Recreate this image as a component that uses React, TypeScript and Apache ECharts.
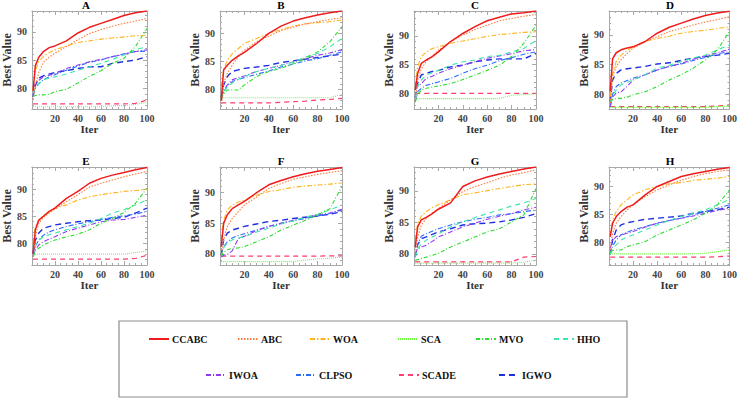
import React, { useEffect, useRef } from 'react';
import * as echarts from 'echarts';

const ITER = [1, 3, 6, 10, 15, 20, 30, 40, 50, 60, 70, 80, 90, 100];
const PANELS = ['A', 'B', 'C', 'D', 'E', 'F', 'G', 'H'];
const Y_MIN = [76.3, 76.5, 77.3, 77.5, 76.0, 78.2, 78.25, 75.9];
const Y_MAX = [93.7, 94.0, 94.3, 94.05, 94.1, 94.2, 93.8, 93.5];
const X_MIN = 0;
const X_MAX = 100;
const X_STEP = 20;

// One row per panel (A..H), values at ITER
const CCABC = [
  [79.5, 84.0, 85.5, 86.5, 87.2, 87.5, 88.4, 89.8, 90.8, 91.5, 92.2, 92.9, 93.4, 93.7],
  [78.0, 83.5, 84.3, 85.2, 86.0, 86.6, 88.2, 90.0, 91.3, 92.2, 92.8, 93.3, 93.7, 94.0],
  [80.6, 83.5, 85.2, 85.8, 86.4, 87.2, 89.0, 90.4, 91.6, 92.6, 93.2, 93.8, 94.0, 94.3],
  [80.5, 86.0, 87.0, 87.5, 87.8, 88.0, 88.9, 90.3, 91.3, 92.0, 92.7, 93.3, 93.7, 94.0],
  [78.0, 82.5, 84.3, 85.0, 85.9, 86.5, 88.3, 89.6, 91.1, 92.0, 92.6, 93.1, 93.6, 94.0],
  [81.2, 85.0, 86.4, 87.4, 88.0, 88.6, 90.0, 91.3, 92.0, 92.6, 93.1, 93.5, 93.8, 94.1],
  [81.1, 84.3, 85.4, 85.8, 86.4, 87.1, 88.1, 90.7, 91.6, 92.2, 92.7, 93.1, 93.5, 93.8],
  [81.0, 83.4, 84.6, 85.5, 86.3, 86.7, 88.5, 90.0, 90.9, 91.8, 92.3, 92.7, 93.1, 93.4],
];
const ABC = [
  [78.0, 80.5, 82.8, 84.6, 85.5, 86.2, 87.4, 88.6, 89.7, 90.4, 91.0, 91.5, 91.9, 92.4],
  [76.9, 81.1, 82.9, 84.3, 85.8, 87.0, 88.5, 89.5, 90.5, 91.1, 91.7, 92.1, 92.5, 92.8],
  [78.8, 82.3, 84.3, 85.5, 86.5, 87.5, 89.0, 90.1, 91.1, 91.85, 92.6, 93.0, 93.4, 93.7],
  [78.5, 83.0, 84.7, 85.8, 86.9, 87.75, 88.9, 89.7, 90.6, 91.1, 91.7, 92.2, 92.6, 93.1],
  [77.5, 81.2, 83.7, 84.8, 85.6, 86.3, 87.7, 89.0, 90.4, 91.1, 91.7, 92.3, 92.8, 93.3],
  [79.6, 82.3, 84.5, 85.8, 86.9, 88.0, 89.3, 90.7, 91.5, 92.2, 92.6, 93.0, 93.3, 93.6],
  [80.1, 82.7, 84.6, 85.6, 86.5, 87.2, 88.6, 89.9, 90.7, 91.3, 92.0, 92.55, 92.9, 93.35],
  [78.6, 81.6, 83.4, 84.6, 85.8, 86.7, 88.2, 89.4, 90.3, 91.1, 91.8, 92.3, 92.7, 93.0],
];
const WOA = [
  [79.7, 83.0, 84.8, 85.6, 86.3, 86.8, 87.5, 88.1, 88.4, 88.7, 88.9, 89.1, 89.3, 89.4],
  [80.5, 83.5, 85.2, 86.4, 87.3, 88.2, 89.1, 90.0, 90.7, 91.3, 91.7, 91.9, 92.1, 92.4],
  [81.2, 84.6, 86.4, 87.2, 87.8, 88.1, 88.7, 89.1, 89.5, 89.9, 90.2, 90.4, 90.6, 90.7],
  [79.6, 83.5, 85.5, 86.6, 87.4, 88.0, 88.9, 89.4, 89.8, 90.3, 90.6, 90.8, 91.1, 91.4],
  [80.0, 83.1, 84.3, 85.1, 85.7, 86.5, 87.1, 88.0, 88.6, 89.0, 89.3, 89.6, 89.75, 90.0],
  [82.3, 85.5, 87.2, 88.0, 88.5, 88.8, 89.6, 90.2, 90.5, 90.9, 91.1, 91.25, 91.4, 91.6],
  [82.2, 84.8, 86.0, 86.7, 87.4, 87.8, 88.6, 89.4, 89.7, 90.05, 90.4, 90.7, 91.0, 91.1],
  [81.0, 84.0, 85.5, 86.7, 87.6, 88.5, 89.4, 90.0, 90.5, 90.7, 91.1, 91.3, 91.5, 91.8],
];
const SCA = [
  [76.7, 76.7, 76.7, 76.7, 76.7, 76.7, 76.7, 76.7, 76.7, 76.7, 76.9, 76.9, 77.1, 77.5],
  [78.5, 78.5, 78.5, 78.5, 78.5, 78.5, 78.5, 78.5, 78.5, 78.5, 78.5, 78.5, 78.5, 79.1],
  [79.1, 79.1, 79.1, 79.1, 79.1, 79.1, 79.1, 79.1, 79.1, 79.1, 79.1, 79.7, 79.8, 79.9],
  [77.8, 77.8, 77.8, 77.8, 77.8, 77.8, 77.8, 77.8, 77.8, 77.8, 77.8, 77.8, 77.9, 78.0],
  [78.0, 78.0, 78.0, 78.0, 78.0, 78.0, 78.0, 78.0, 78.0, 78.0, 78.0, 78.0, 78.3, 78.6],
  [78.75, 78.75, 78.75, 78.75, 78.75, 78.75, 78.75, 78.75, 78.75, 78.75, 79.0, 79.2, 79.3, 79.5],
  [78.55, 78.55, 78.55, 78.55, 78.55, 78.55, 78.55, 78.55, 78.55, 78.55, 78.55, 78.55, 78.7, 79.0],
  [77.9, 77.9, 77.9, 77.9, 77.9, 77.9, 77.9, 77.9, 77.9, 77.9, 77.9, 78.0, 78.3, 78.6],
];
const MVO = [
  [78.5, 78.7, 78.8, 78.8, 78.9, 79.4, 79.8, 80.9, 82.1, 83.1, 84.4, 85.3, 87.4, 90.6],
  [78.3, 79.2, 79.9, 79.9, 79.9, 80.8, 82.3, 83.2, 83.75, 84.6, 85.5, 86.7, 88.5, 91.2],
  [78.5, 79.8, 80.6, 80.9, 81.1, 81.3, 81.7, 82.4, 83.2, 84.0, 84.9, 86.4, 88.7, 91.8],
  [78.7, 79.1, 79.3, 79.3, 79.5, 79.9, 80.4, 81.3, 82.4, 83.3, 84.4, 85.8, 87.5, 90.6],
  [77.5, 78.5, 79.1, 79.7, 80.2, 80.6, 81.2, 81.7, 82.5, 83.7, 84.6, 85.7, 87.4, 90.2],
  [79.6, 80.3, 80.7, 80.9, 81.0, 81.2, 82.0, 82.8, 83.9, 84.7, 85.5, 86.4, 87.4, 91.0],
  [79.0, 79.1, 79.3, 79.5, 79.8, 80.1, 81.1, 81.9, 82.7, 83.5, 84.0, 85.1, 86.2, 90.4],
  [78.3, 78.5, 78.6, 78.6, 79.2, 79.5, 80.1, 81.3, 82.2, 83.1, 84.0, 85.2, 86.7, 89.4],
];
const HHO = [
  [79.1, 80.0, 80.8, 81.5, 81.8, 82.0, 82.5, 83.2, 83.8, 84.4, 85.1, 85.9, 86.8, 87.4],
  [78.1, 79.6, 80.5, 81.1, 81.8, 82.3, 83.2, 83.75, 84.3, 84.9, 85.8, 86.4, 87.6, 89.1],
  [79.3, 81.2, 82.3, 83.2, 83.6, 84.0, 84.9, 85.5, 85.8, 86.4, 86.6, 87.2, 87.8, 89.2],
  [78.7, 79.8, 80.7, 81.6, 82.0, 82.4, 83.3, 84.4, 84.9, 85.5, 86.1, 86.6, 87.5, 88.3],
  [77.5, 79.5, 80.6, 81.2, 81.6, 81.9, 82.5, 83.1, 83.7, 84.6, 85.6, 86.2, 87.1, 88.0],
  [79.6, 81.0, 81.8, 82.3, 82.6, 82.8, 83.6, 84.2, 84.9, 85.4, 86.0, 86.5, 87.2, 88.0],
  [79.5, 80.8, 81.6, 82.2, 82.7, 83.2, 84.3, 85.1, 85.8, 86.4, 87.0, 87.6, 88.1, 88.8],
  [77.9, 78.9, 79.5, 80.4, 80.9, 81.3, 82.2, 83.1, 83.9, 84.6, 85.2, 85.8, 86.7, 87.7],
];
const IWOA = [
  [80.0, 80.8, 81.4, 82.0, 82.3, 82.6, 83.5, 84.1, 84.7, 85.1, 85.6, 86.0, 86.5, 86.8],
  [78.7, 79.8, 80.8, 81.7, 82.1, 82.4, 83.2, 83.75, 84.3, 84.9, 85.5, 86.1, 86.5, 87.1],
  [80.6, 81.2, 81.7, 82.6, 83.0, 83.5, 84.3, 84.9, 85.5, 86.1, 86.5, 86.9, 87.4, 87.6],
  [77.9, 79.5, 80.2, 80.4, 81.3, 82.4, 83.3, 84.1, 84.7, 85.2, 85.9, 86.5, 87.0, 87.6],
  [77.5, 78.8, 79.7, 80.3, 80.8, 81.2, 82.2, 82.8, 83.4, 84.0, 84.3, 84.4, 84.8, 85.2],
  [79.5, 79.8, 79.9, 80.5, 82.5, 82.9, 83.8, 84.5, 85.0, 85.5, 86.0, 86.4, 86.7, 87.3],
  [80.0, 80.8, 81.1, 81.4, 82.0, 82.7, 83.5, 84.3, 84.9, 85.5, 86.0, 86.4, 87.0, 87.4],
  [79.0, 80.3, 81.0, 81.3, 81.6, 81.9, 82.7, 83.4, 83.9, 84.3, 84.7, 85.2, 85.7, 86.1],
];
const CLPSO = [
  [78.8, 80.0, 80.8, 81.5, 82.0, 82.4, 83.2, 83.9, 84.6, 85.0, 85.6, 86.1, 86.5, 86.6],
  [78.1, 79.5, 80.6, 81.4, 81.8, 82.1, 82.7, 83.3, 84.0, 84.5, 85.1, 85.5, 86.1, 86.7],
  [78.6, 80.3, 80.9, 81.4, 81.7, 82.0, 82.6, 83.5, 84.3, 84.9, 85.7, 86.2, 86.8, 87.2],
  [77.9, 80.0, 81.3, 81.9, 82.3, 82.7, 83.3, 84.1, 84.7, 85.1, 85.7, 86.2, 86.8, 87.2],
  [77.8, 79.5, 80.6, 81.5, 82.1, 82.5, 83.1, 83.6, 84.0, 84.4, 84.8, 85.1, 85.4, 85.9],
  [79.8, 81.2, 82.0, 82.6, 83.0, 83.3, 83.9, 84.5, 85.0, 85.4, 85.8, 86.2, 86.6, 87.2],
  [79.5, 81.5, 82.8, 83.2, 83.6, 84.0, 84.6, 85.1, 85.5, 85.8, 86.2, 86.4, 86.7, 87.0],
  [77.8, 79.3, 80.4, 81.3, 81.8, 82.2, 82.8, 83.4, 83.9, 84.3, 84.9, 85.5, 86.1, 86.7],
];
const SCADE = [
  [77.2, 77.2, 77.2, 77.2, 77.2, 77.2, 77.2, 77.2, 77.2, 77.2, 77.2, 77.2, 77.3, 77.9],
  [77.6, 77.6, 77.6, 77.6, 77.6, 77.6, 77.6, 77.6, 77.7, 77.8, 77.9, 78.1, 78.2, 78.4],
  [80.0, 80.0, 80.0, 80.0, 80.0, 80.0, 80.0, 80.0, 80.0, 80.0, 80.0, 80.0, 80.0, 80.0],
  [77.9, 77.9, 77.9, 77.9, 77.9, 77.9, 77.9, 77.9, 77.9, 77.9, 77.9, 77.9, 78.0, 78.2],
  [77.1, 77.1, 77.1, 77.1, 77.1, 77.1, 77.1, 77.1, 77.1, 77.1, 77.1, 77.1, 77.2, 77.8],
  [79.65, 79.65, 79.65, 79.65, 79.65, 79.65, 79.65, 79.65, 79.65, 79.65, 79.65, 79.65, 79.7, 79.7],
  [78.75, 78.75, 78.75, 78.75, 78.75, 78.75, 78.75, 78.75, 78.75, 78.75, 78.75, 78.75, 79.5, 79.6],
  [77.3, 77.3, 77.3, 77.3, 77.3, 77.3, 77.3, 77.3, 77.3, 77.3, 77.3, 77.3, 77.4, 77.5],
];
const IGWO = [
  [78.5, 80.5, 81.8, 82.2, 82.5, 82.8, 83.1, 83.5, 83.8, 83.8, 84.4, 84.7, 85.0, 85.6],
  [78.7, 80.8, 82.3, 83.2, 83.5, 83.75, 84.0, 84.3, 84.8, 85.1, 85.4, 85.7, 86.0, 86.3],
  [79.3, 81.8, 83.2, 83.5, 83.8, 84.0, 84.6, 84.9, 85.5, 85.8, 86.0, 86.0, 86.0, 86.9],
  [78.7, 82.4, 83.5, 84.1, 84.3, 84.4, 84.7, 85.1, 85.3, 85.7, 86.1, 86.35, 86.6, 86.9],
  [78.2, 80.6, 81.9, 82.8, 83.1, 83.4, 83.7, 84.0, 84.2, 84.3, 84.6, 84.8, 85.6, 86.5],
  [79.8, 82.3, 83.4, 83.9, 84.2, 84.5, 84.9, 85.3, 85.5, 85.8, 86.0, 86.2, 86.5, 86.9],
  [79.5, 81.5, 82.4, 82.7, 83.1, 83.5, 84.0, 84.6, 84.8, 84.9, 85.1, 85.4, 85.8, 86.4],
  [77.8, 80.4, 82.2, 83.1, 83.5, 83.7, 84.1, 84.3, 84.5, 84.7, 85.2, 85.5, 85.8, 86.3],
];

const NAMES = ['CCABC', 'ABC', 'WOA', 'SCA', 'MVO', 'HHO', 'IWOA', 'CLPSO', 'SCADE', 'IGWO'];
const VALUES = [CCABC, ABC, WOA, SCA, MVO, HHO, IWOA, CLPSO, SCADE, IGWO];

// styles
const COLORS = ['#ee1c1c', '#ff7a3d', '#ffb41e', '#6cff3c', '#2edc2e', '#3ae8a8', '#8d3cf0', '#2a6cff', '#ff3d6e', '#1f2fe0'];
const DASHES: any[] = ['solid', [1.5, 1.5], [5, 2, 1.5, 2], [1, 1], [4, 2, 1, 2], [5, 4], [5, 2, 1, 2], [5, 2, 1, 2], [5, 4], [6, 4]];
const WIDTHS = [1.5, 1.1, 1.1, 1.1, 1.1, 1.1, 1.1, 1.1, 1.2, 1.4];
const LEGEND_POS = [
  [148, 334], [237, 334], [309, 334], [397, 334], [475, 334], [553, 334],
  [205, 370], [295, 370], [398, 370], [498, 370],
];

const GRID_LEFT = [25, 220, 414, 609];
const GRID_TOP = [11, 167];
const GRID_W = 122;
const GRID_H = 98;
const FONT = 'Liberation Serif';
const FRAME = '#a8a8a8';

export default function App() {
  const ref = useRef<HTMLDivElement>(null);
  useEffect(() => {
    if (!ref.current) return;
    const chart = echarts.init(ref.current, undefined, { renderer: 'svg' });
    const grid: any[] = [];
    const xAxis: any[] = [];
    const yAxis: any[] = [];
    const series: any[] = [];
    const graphic: any[] = [];
    const axisBase = {
      axisLine: { show: true, onZero: false, lineStyle: { color: FRAME, width: 1 } },
      axisTick: { show: true, inside: true, length: 4, lineStyle: { color: FRAME } },
      minorTick: { show: true, length: 2, lineStyle: { color: FRAME } },
      splitLine: { show: false },
      minorSplitLine: { show: false },
    };
    PANELS.forEach((p, i) => {
      const col = i % 4;
      const row = Math.floor(i / 4);
      grid.push({ left: GRID_LEFT[col], top: GRID_TOP[row], width: GRID_W, height: GRID_H, containLabel: false });
      const xb = {
        ...axisBase,
        type: 'value', gridIndex: i, min: X_MIN, max: X_MAX, interval: X_STEP,
        minorTick: { ...axisBase.minorTick, splitNumber: 4 },
      };
      xAxis.push({
        ...xb, position: 'bottom',
        name: 'Iter', nameLocation: 'middle', nameGap: 14,
        nameTextStyle: { fontFamily: FONT, fontWeight: 'bold', fontSize: 11, color: '#333' },
        axisLabel: {
          margin: 4, fontFamily: FONT, fontWeight: 'bold', fontSize: 10, color: '#444',
          formatter: (v: number) => (v === 0 ? '' : String(v)),
        },
      });
      xAxis.push({ ...xb, position: 'top', axisLabel: { show: false } });
      const yb = {
        ...axisBase,
        type: 'value', gridIndex: i, min: Y_MIN[i], max: Y_MAX[i], splitNumber: 3,
        minorTick: { ...axisBase.minorTick, splitNumber: 5 },
      };
      yAxis.push({
        ...yb, position: 'left',
        name: 'Best Value', nameLocation: 'middle', nameGap: 16,
        nameTextStyle: { fontFamily: FONT, fontWeight: 'bold', fontSize: 12, color: '#333' },
        axisLabel: {
          margin: 5, fontFamily: FONT, fontWeight: 'bold', fontSize: 10, color: '#444',
          formatter: (v: number) => (Math.abs(v - Math.round(v / 5) * 5) < 1e-6 ? String(Math.round(v)) : ''),
        },
      });
      yAxis.push({ ...yb, position: 'right', axisLabel: { show: false } });
      graphic.push({
        type: 'text',
        x: GRID_LEFT[col] + GRID_W / 2,
        y: GRID_TOP[row] - 6,
        style: { text: p, align: 'center', verticalAlign: 'middle', fontFamily: FONT, fontWeight: 'bold', fontSize: 11, fill: '#000' },
      });
      VALUES.forEach((vals, k) => {
        series.push({
          type: 'line', name: NAMES[k], xAxisIndex: 2 * i, yAxisIndex: 2 * i,
          data: ITER.map((x, j) => [x, vals[i][j]]),
          symbol: 'none', showSymbol: false, z: 20 - k,
          lineStyle: { color: COLORS[k], type: DASHES[k], width: WIDTHS[k] },
          itemStyle: { color: COLORS[k] },
        });
      });
    });
    graphic.push({
      type: 'rect',
      shape: { x: 119, y: 321, width: 508, height: 76 },
      style: { fill: 'none', stroke: '#8c8c8c', lineWidth: 1.2 },
    });
    const legend = NAMES.map((n, k) => ({
      data: [n], left: LEGEND_POS[k][0], top: LEGEND_POS[k][1],
      padding: 0, itemWidth: 20, itemHeight: 12, selectedMode: false,
      itemStyle: { opacity: 0, color: 'rgba(0,0,0,0)', borderWidth: 0 },
      textStyle: { fontFamily: FONT, fontWeight: 'bold', fontSize: 10, color: '#111', padding: [0, 0, 0, -2] },
    }));
    chart.setOption({
      animation: false,
      backgroundColor: '#fff',
      textStyle: { fontFamily: FONT },
      grid, xAxis, yAxis, series, legend, graphic,
    });
    return () => chart.dispose();
  }, []);
  return <div ref={ref} style={{ position: 'absolute', left: 0, top: 0, width: 740, height: 400 }} />;
}
